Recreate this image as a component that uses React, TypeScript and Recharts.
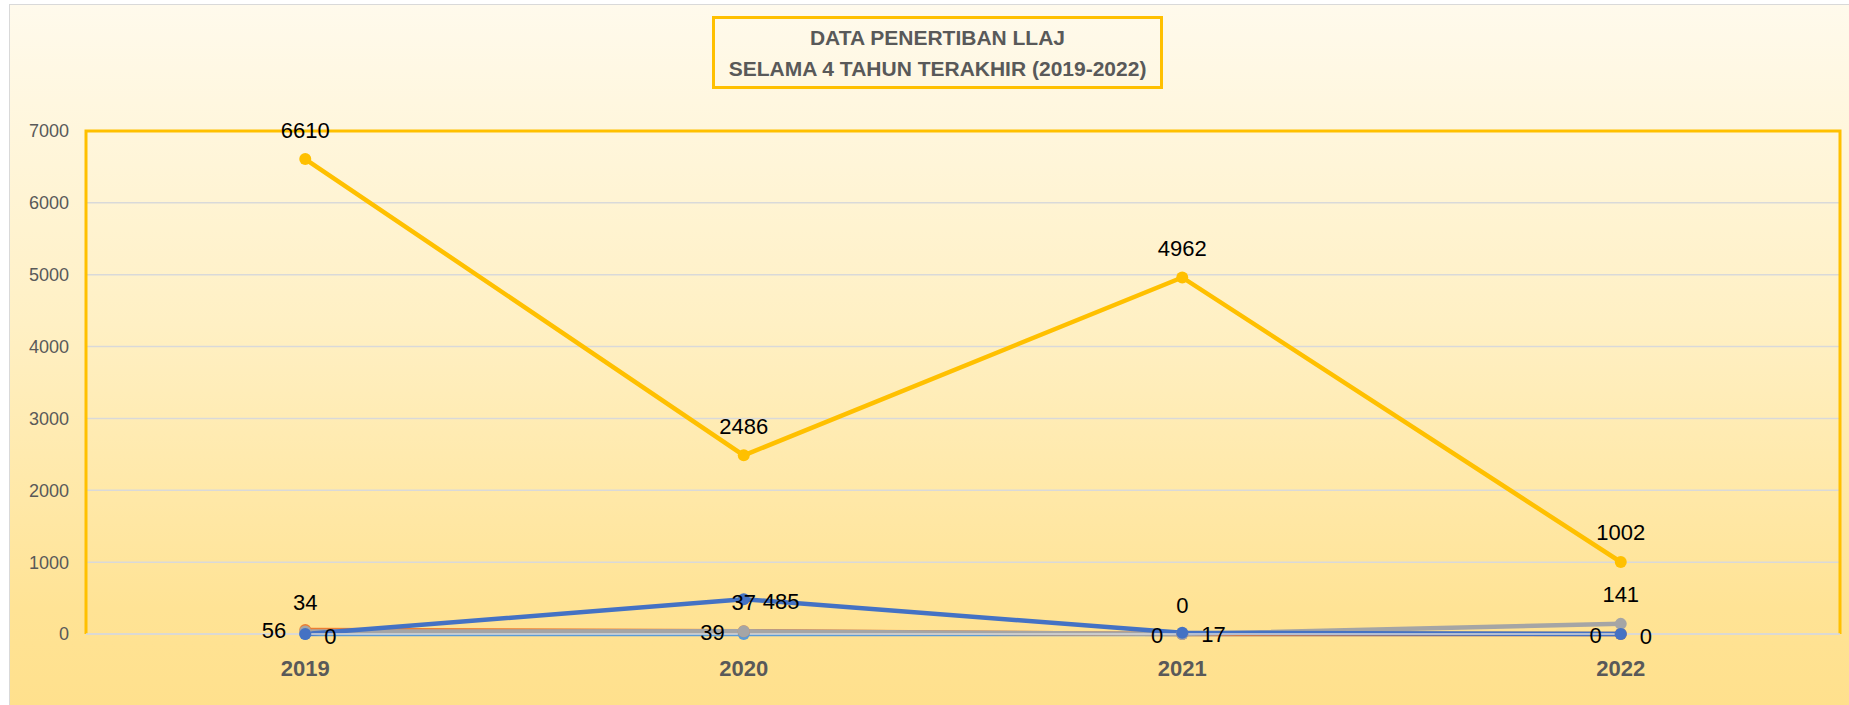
import React from 'react';
import { LineChart, Line, XAxis, YAxis, CartesianGrid, LabelList, ReferenceArea } from 'recharts';

const years = ['2019', '2020', '2021', '2022'];
const seriesYellow = [6610, 2486, 4962, 1002];
const seriesBlue = [0, 485, 17, 0];
const seriesOrange = [56, 39, 0, 0];
const seriesGray = [34, 37, 0, 141];
const seriesLightBlue = [0, 0, 0, 0];
const yTicks = [0, 1000, 2000, 3000, 4000, 5000, 6000, 7000];
const titleLines = ['DATA PENERTIBAN LLAJ', 'SELAMA 4 TAHUN TERAKHIR (2019-2022)'];

const data = years.map((year, i) => ({
  year,
  yellow: seriesYellow[i],
  blue: seriesBlue[i],
  orange: seriesOrange[i],
  gray: seriesGray[i],
  lightBlue: seriesLightBlue[i],
}));

const FONT = "'Liberation Sans', Arial, sans-serif";

const makeLabel = (pos: 'above' | 'left' | 'right') => (props: any) => {
  const { x, y, value } = props;
  if (x == null || y == null) return null;
  let tx = x;
  let ty = y;
  let anchor: 'middle' | 'end' | 'start' = 'middle';
  if (pos === 'above') {
    ty = y - 29;
  } else if (pos === 'left') {
    tx = x - 19;
    ty = y + 1;
    anchor = 'end';
  } else {
    tx = x + 19;
    ty = y + 2;
    anchor = 'start';
  }
  return (
    <text x={tx} y={ty} textAnchor={anchor} dominantBaseline="central" fontSize={22} fill="#000" fontFamily={FONT}>
      {value}
    </text>
  );
};

const PlotFrame = (props: any) => {
  const { x, y, width, height } = props;
  if (x == null || y == null) return null;
  return (
    <path
      d={`M${x},${y + height} V${y} H${x + width} V${y + height}`}
      fill="none"
      stroke="#FFC000"
      strokeWidth={3}
    />
  );
};

const dotStyle = (c: string) => ({ r: 6, fill: c, stroke: c, strokeWidth: 0 });

export default function App() {
  return (
    <div style={{ position: 'absolute', left: 0, top: 0, width: 1849, height: 705, overflow: 'hidden', background: '#fff' }}>
      <div
        style={{
          position: 'absolute',
          left: 9,
          top: 4,
          width: 1850,
          height: 710,
          borderLeft: '1.5px solid #D9D9D9',
          borderTop: '1.5px solid #D9D9D9',
          background: 'linear-gradient(to bottom, #FFFAEC 0%, #FFF0C4 45%, #FFE395 85%, #FFE08C 100%)',
        }}
      />
      <div style={{ position: 'absolute', left: 0, top: 0 }}>
        <LineChart width={1849} height={705} data={data} margin={{ top: 131, right: 9, bottom: 0, left: 0 }}>
          <CartesianGrid horizontal vertical={false} stroke="#D9D9D9" strokeWidth={1.5} />
          <ReferenceArea x1="2019" x2="2022" y1={0} y2={7000} shape={PlotFrame} ifOverflow="visible" />
          <XAxis
            dataKey="year"
            scale="band"
            height={71}
            tickLine={false}
            tickSize={0}
            tickMargin={26}
            axisLine={{ stroke: '#D9D9D9', strokeWidth: 1.5 }}
            tick={{ fontSize: 22, fontWeight: 700, fill: '#595959', fontFamily: FONT }}
          />
          <YAxis
            width={86}
            domain={[0, 7000]}
            ticks={yTicks}
            tickLine={false}
            tickSize={0}
            tickMargin={17}
            axisLine={false}
            tick={{ fontSize: 18, fill: '#595959', fontFamily: FONT }}
          />
          <Line dataKey="lightBlue" stroke="#5B9BD5" strokeWidth={4.5} dot={dotStyle('#5B9BD5')} isAnimationActive={false} />
          <Line dataKey="orange" stroke="#ED7D31" strokeWidth={4.5} dot={dotStyle('#ED7D31')} isAnimationActive={false}>
            <LabelList dataKey="orange" content={makeLabel('left')} />
          </Line>
          <Line dataKey="gray" stroke="#A5A5A5" strokeWidth={4.5} dot={dotStyle('#A5A5A5')} isAnimationActive={false}>
            <LabelList dataKey="gray" content={makeLabel('above')} />
          </Line>
          <Line dataKey="blue" stroke="#4472C4" strokeWidth={4.5} dot={dotStyle('#4472C4')} isAnimationActive={false}>
            <LabelList dataKey="blue" content={makeLabel('right')} />
          </Line>
          <Line dataKey="yellow" stroke="#FFC000" strokeWidth={4.5} dot={dotStyle('#FFC000')} isAnimationActive={false}>
            <LabelList dataKey="yellow" content={makeLabel('above')} />
          </Line>
        </LineChart>
      </div>
      <div
        style={{
          position: 'absolute',
          left: 712,
          top: 16,
          width: 445,
          height: 66,
          border: '3.5px solid #FFC000',
          display: 'flex',
          flexDirection: 'column',
          justifyContent: 'center',
          alignItems: 'center',
          fontFamily: FONT,
          fontWeight: 700,
          fontSize: 21,
          color: '#595959',
          lineHeight: '31px',
          paddingTop: 1,
          boxSizing: 'content-box',
        }}
      >
        {titleLines.map((t) => (
          <div key={t}>{t}</div>
        ))}
      </div>
    </div>
  );
}
